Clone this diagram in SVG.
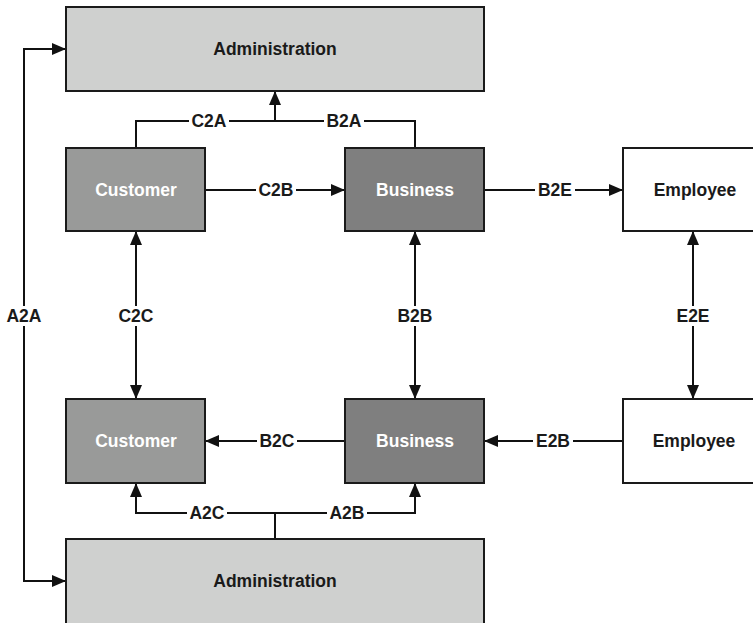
<svg xmlns="http://www.w3.org/2000/svg" width="753" height="623" viewBox="0 0 753 623">
<defs>
<marker id="ah" viewBox="0 0 14 12" refX="14" refY="6" markerWidth="14" markerHeight="12" markerUnits="userSpaceOnUse" orient="auto-start-reverse">
<path d="M0,0 L14,6 L0,12 z" fill="#111"/>
</marker>
<style>
.box{stroke:#1a1a1a;stroke-width:2}
.adm{fill:#cfd0cf}
.cus{fill:#999a99}
.bus{fill:#7f7f7f}
.emp{fill:#ffffff}
.t{font-family:"Liberation Sans",Arial,sans-serif;font-weight:bold;font-size:17.5px;text-anchor:middle;dominant-baseline:central}
.dk{fill:#1a1a1a}
.lt{fill:#ffffff}
.ln{fill:none;stroke:#111;stroke-width:2}
.lb{fill:#ffffff}
</style>
</defs>
<rect width="753" height="623" fill="#ffffff"/>
<g id="connectors">
<path class="ln" d="M136,148 V121 H415 V148"/>
<path class="ln" d="M275,121 V91" marker-end="url(#ah)"/>
<path class="ln" d="M205,190 H345" marker-end="url(#ah)"/>
<path class="ln" d="M484,190 H623" marker-end="url(#ah)"/>
<path class="ln" d="M136,231 V399" marker-start="url(#ah)" marker-end="url(#ah)"/>
<path class="ln" d="M415,231 V399" marker-start="url(#ah)" marker-end="url(#ah)"/>
<path class="ln" d="M693,231 V399" marker-start="url(#ah)" marker-end="url(#ah)"/>
<path class="ln" d="M345,441 H205" marker-end="url(#ah)"/>
<path class="ln" d="M623,441 H484" marker-end="url(#ah)"/>
<path class="ln" d="M66,49 H24 V581 H66" marker-start="url(#ah)" marker-end="url(#ah)"/>
<path class="ln" d="M275,539 V513"/>
<path class="ln" d="M275,513 H136 V483" marker-end="url(#ah)"/>
<path class="ln" d="M275,513 H415 V483" marker-end="url(#ah)"/>
<rect class="lb" x="189" y="111" width="40" height="20"/>
<text class="t dk" x="209" y="121">C2A</text>
<rect class="lb" x="324" y="111" width="40" height="20"/>
<text class="t dk" x="344" y="121">B2A</text>
<rect class="lb" x="256" y="180" width="40" height="20"/>
<text class="t dk" x="276" y="190">C2B</text>
<rect class="lb" x="535" y="180" width="40" height="20"/>
<text class="t dk" x="555" y="190">B2E</text>
<rect class="lb" x="116" y="306" width="40" height="20"/>
<text class="t dk" x="136" y="316">C2C</text>
<rect class="lb" x="395" y="306" width="40" height="20"/>
<text class="t dk" x="415" y="316">B2B</text>
<rect class="lb" x="673" y="306" width="40" height="20"/>
<text class="t dk" x="693" y="316">E2E</text>
<rect class="lb" x="4" y="306" width="40" height="20"/>
<text class="t dk" x="24" y="316">A2A</text>
<rect class="lb" x="257" y="431" width="40" height="20"/>
<text class="t dk" x="277" y="441">B2C</text>
<rect class="lb" x="533" y="431" width="40" height="20"/>
<text class="t dk" x="553" y="441">E2B</text>
<rect class="lb" x="187" y="503" width="40" height="20"/>
<text class="t dk" x="207" y="513">A2C</text>
<rect class="lb" x="327" y="503" width="40" height="20"/>
<text class="t dk" x="347" y="513">A2B</text>
</g>
<g id="admin-top">
<rect class="box adm" x="66" y="7" width="418" height="84"/>
<text class="t dk" x="275" y="49">Administration</text>
</g>
<g id="customer-top">
<rect class="box cus" x="66" y="148" width="139" height="83"/>
<text class="t lt" x="136" y="190">Customer</text>
</g>
<g id="business-top">
<rect class="box bus" x="345" y="148" width="139" height="83"/>
<text class="t lt" x="415" y="190">Business</text>
</g>
<g id="employee-top">
<rect class="box emp" x="623" y="148" width="142" height="83"/>
<text class="t dk" x="695" y="190">Employee</text>
</g>
<g id="customer-bottom">
<rect class="box cus" x="66" y="399" width="139" height="84"/>
<text class="t lt" x="136" y="441">Customer</text>
</g>
<g id="business-bottom">
<rect class="box bus" x="345" y="399" width="139" height="84"/>
<text class="t lt" x="415" y="441">Business</text>
</g>
<g id="employee-bottom">
<rect class="box emp" x="623" y="399" width="142" height="84"/>
<text class="t dk" x="694" y="441">Employee</text>
</g>
<g id="admin-bottom">
<rect class="box adm" x="66" y="539" width="418" height="90"/>
<text class="t dk" x="275" y="581">Administration</text>
</g>
</svg>
